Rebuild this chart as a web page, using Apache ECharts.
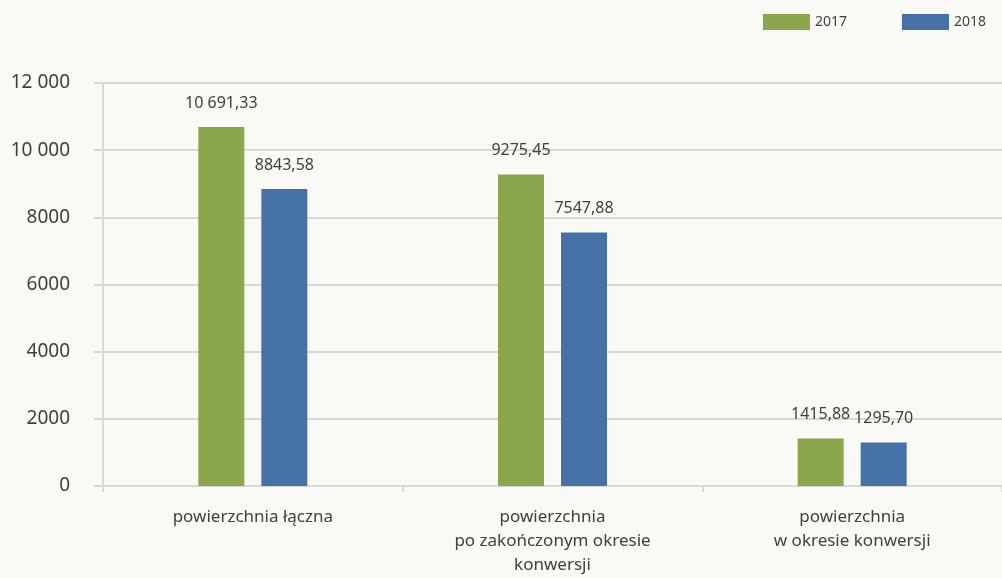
<!DOCTYPE html>
<html><head><meta charset="utf-8">
<script src="https://cdn.jsdelivr.net/npm/echarts@6/dist/echarts.min.js"></script>
<style>html,body{margin:0;padding:0;background:#f9faf6;}#c{width:1002px;height:578px;}</style>
</head><body><div id="c"></div>
<script>
const categories = ['powierzchnia łączna', 'powierzchnia\npo zakończonym okresie\nkonwersji', 'powierzchnia\nw okresie konwersji'];
const seriesNames = ['2017', '2018'];
const values2017 = [10691.33, 9275.45, 1415.88];
const values2018 = [8843.58, 7547.88, 1295.70];
const yTicks = [0, 2000, 4000, 6000, 8000, 10000, 12000];

function fmtPL(v, dec) {
  let s = v.toFixed(dec);
  let [i, d] = s.split('.');
  if (i.length >= 5) i = i.replace(/\B(?=(\d{3})+(?!\d))/g, ' ');
  return d ? i + ',' + d : i;
}
const FONT = '"Noto Sans", "Open Sans", sans-serif';
const chart = echarts.init(document.getElementById('c'));
chart.setOption({
  backgroundColor: '#f9faf6',
  animation: false,
  textStyle: { fontFamily: FONT },
  legend: {
    right: 11, top: 9, itemWidth: 47, itemHeight: 16, itemGap: 55,
    icon: 'rect',
    textStyle: { fontSize: 14, color: '#404040', fontFamily: FONT },
    data: seriesNames
  },
  grid: { left: 103, top: 83, width: 906, height: 403, containLabel: false },
  xAxis: {
    type: 'category', data: categories,
    axisLine: { lineStyle: { color: '#d9d9d9', width: 2 } },
    axisTick: { show: true, length: 6, lineStyle: { color: '#d9d9d9', width: 2 } },
    axisLabel: { color: '#404040', fontSize: 17, lineHeight: 24, margin: 19, fontFamily: FONT, interval: 0 }
  },
  yAxis: {
    type: 'value', min: 0, max: 12000, interval: 2000,
    axisLine: { show: true, lineStyle: { color: '#d9d9d9', width: 2 } },
    axisTick: { show: true, length: 9, lineStyle: { color: '#d9d9d9', width: 2 } },
    splitLine: { lineStyle: { color: '#d9d9d9', width: 2 } },
    axisLabel: { color: '#404040', fontSize: 19, margin: 33, fontFamily: FONT,
      formatter: v => fmtPL(v, 0) }
  },
  series: [
    { name: seriesNames[0], type: 'bar', data: values2017, barWidth: 46, barGap: '37%',
      itemStyle: { color: '#8ba64c' },
      label: { show: true, position: 'top', distance: 16, color: '#404040', fontSize: 16, fontFamily: FONT,
        formatter: p => fmtPL(p.value, 2) } },
    { name: seriesNames[1], type: 'bar', data: values2018, barWidth: 46,
      itemStyle: { color: '#4571a7' },
      label: { show: true, position: 'top', distance: 16, color: '#404040', fontSize: 16, fontFamily: FONT,
        formatter: p => fmtPL(p.value, 2) } }
  ]
});
</script></body></html>
